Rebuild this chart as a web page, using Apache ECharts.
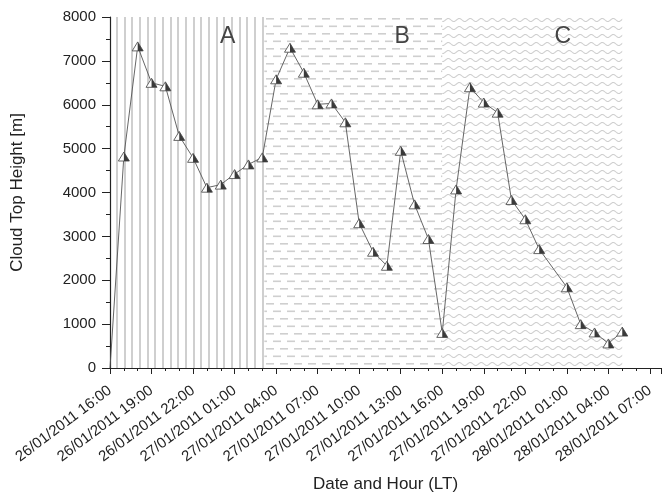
<!DOCTYPE html>
<html lang="en">
<head>
<meta charset="UTF-8" />
<title>Cloud Top Height</title>
<style>
  html, body { margin: 0; padding: 0; background: #fff; }
  #chart { width: 663px; height: 501px; }
</style>
</head>
<body>
<div id="chart"></div>
<script src="https://cdn.jsdelivr.net/npm/echarts@6/dist/echarts.min.js"></script>
<script>
// hours after 26/01/2011 16:00 LT
const hours = [0, 1, 2, 3, 4, 5, 6, 7, 8, 9, 10, 11, 12, 13, 14, 15, 16, 17, 18, 19, 20, 21, 22, 23,
  24, 25, 26, 27, 28, 29, 30, 31, 33, 34, 35, 36, 37];
const heights = [0, 4820, 7330, 6500, 6420, 5290, 4790, 4110, 4180, 4420, 4640, 4800, 6580, 7300, 6730, 6010,
  6030, 5600, 3300, 2650, 2330, 4950, 3730, 2940, 800, 4070, 6400, 6050, 5820, 3830, 3390, 2710, 1840,
  1000, 810, 560, 830];

const regionNames = ['A', 'B', 'C'];
const regionStart = [0, 11.15, 24];
const regionEnd = [11.15, 24, 37];
const regionLabelX = [8.5, 21.1, 32.7];
const regionLabelY = 7560;

const grey = '#cfcfcf';

function makePattern(kind) {
  const c = document.createElement('canvas');
  if (kind === 'A') {
    c.width = 23; c.height = 10;
  } else if (kind === 'B') {
    c.width = 14; c.height = 15;
  } else {
    c.width = 11; c.height = 8;
  }
  const ctx = c.getContext('2d');
  ctx.fillStyle = grey;
  ctx.strokeStyle = grey;
  if (kind === 'A') {
    [1, 9, 16].forEach(x => ctx.fillRect(x, 0, 2, 10));
  } else if (kind === 'B') {
    ctx.fillRect(0, 3, 8, 1.6);
    ctx.fillRect(7, 10.5, 7, 1.6);
    ctx.fillRect(0, 10.5, 1, 1.6);
  } else {
    ctx.lineWidth = 1.1;
    ctx.beginPath();
    for (let x = 0; x <= 11; x += 0.5) {
      const y = 4 + 1.5 * Math.sin(x / 11 * Math.PI * 2);
      if (x === 0) ctx.moveTo(x, y); else ctx.lineTo(x, y);
    }
    ctx.stroke();
  }
  return { image: c, repeat: 'repeat' };
}

function fmtHour(v) {
  const total = 16 + v;
  const day = 26 + Math.floor(total / 24);
  const h = total % 24;
  return day + '/01/2011 ' + String(h).padStart(2, '0') + ':00';
}

const points = hours.map((h, i) => i === 0 ? { value: [h, heights[i]], symbol: 'none' } : [h, heights[i]]);

const font = "'Liberation Sans', Arial, sans-serif";

const chart = echarts.init(document.getElementById('chart'));
chart.setOption({
  animation: false,
  grid: { left: 110, top: 17, right: 2, bottom: 133 },
  xAxis: {
    type: 'value', min: 0, max: 39.8, interval: 3,
    name: 'Date and Hour (LT)', nameLocation: 'middle', nameGap: 108,
    nameTextStyle: { fontFamily: font, fontSize: 17, color: '#222' },
    axisLine: { lineStyle: { color: '#222', width: 1.2 } },
    axisTick: { length: 6, lineStyle: { color: '#222' } },
    minorTick: { show: true, splitNumber: 3, length: 3, lineStyle: { color: '#222' } },
    splitLine: { show: false },
    axisLabel: {
      rotate: 37, margin: 21, showMaxLabel: false,
      fontFamily: font, fontSize: 15, color: '#222',
      formatter: fmtHour
    }
  },
  yAxis: {
    type: 'value', min: 0, max: 8000, interval: 1000,
    name: 'Cloud Top Height [m]', nameLocation: 'middle', nameGap: 84,
    nameTextStyle: { fontFamily: font, fontSize: 17, color: '#222' },
    axisLine: { show: true, lineStyle: { color: '#222', width: 1.2 } },
    axisTick: { show: true, length: 8, lineStyle: { color: '#222' } },
    minorTick: { show: true, splitNumber: 2, length: 4, lineStyle: { color: '#222' } },
    splitLine: { show: false },
    axisLabel: { margin: 14, fontFamily: font, fontSize: 15, color: '#222', formatter: v => String(v) }
  },
  series: [
    {
      type: 'line',
      data: points,
      symbol: 'triangle',
      symbolSize: [11, 9],
      itemStyle: { color: '#fff', borderColor: '#555', borderWidth: 0.9 },
      lineStyle: { color: '#555', width: 0.9 },
      z: 3,
      markArea: {
        silent: true,
        data: regionNames.map((n, i) => [
          { xAxis: regionStart[i], itemStyle: { color: makePattern(n) } },
          { xAxis: regionEnd[i] }
        ])
      },
      markPoint: {
        silent: true,
        symbol: 'circle', symbolSize: 0,
        label: { show: true, fontFamily: font, fontSize: 23, color: '#444', formatter: p => p.name },
        data: regionNames.map((n, i) => ({ name: n, coord: [regionLabelX[i], regionLabelY] }))
      }
    },
    {
      type: 'line',
      data: points,
      symbol: 'path://M0,0 L1,2 L0,2 Z',
      symbolKeepAspect: false,
      symbolSize: [5.5, 9],
      symbolOffset: [2.75, 0],
      itemStyle: { color: '#3a3a3a' },
      lineStyle: { opacity: 0 },
      z: 4
    }
  ]
});
</script>
</body>
</html>
